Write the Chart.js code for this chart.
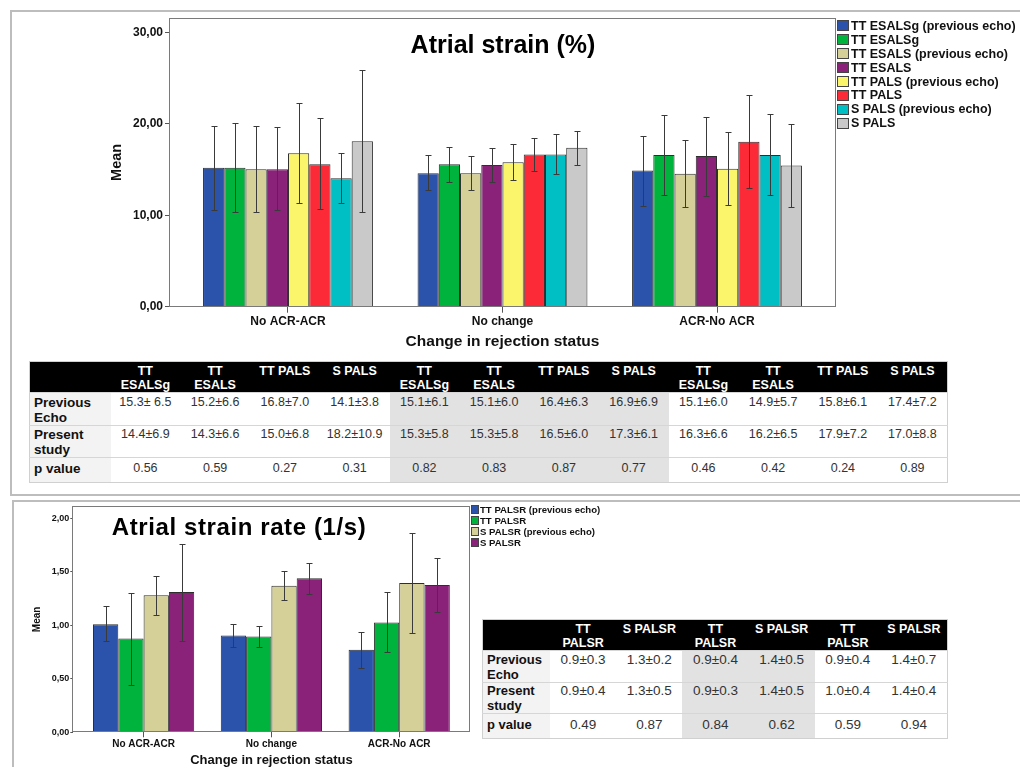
<!DOCTYPE html>
<html>
<head>
<meta charset="utf-8">
<script src="https://cdn.jsdelivr.net/npm/chart.js@4.4.1/dist/chart.umd.min.js"></script>
<style>
  html, body { margin: 0; padding: 0; background: #fff; width: 1020px; height: 767px; overflow: hidden;
    font-family: "Liberation Sans", Arial, Helvetica, sans-serif; }
  .abs { position: absolute; }
  .panel { position: absolute; border: 2px solid #bdbdbd; box-sizing: border-box; }
  .ctitle { position: absolute; font-weight: bold; color: #000; white-space: nowrap; line-height: 1;
    transform: translate(-50%, -50%); }
  .legend { position: absolute; font-weight: bold; color: #111; }
  .legend .row { display: flex; align-items: center; white-space: nowrap; }
  .legend .box { box-sizing: border-box; border: 1px solid #444; flex: none; }
  table.stats { position: absolute; border-collapse: collapse; table-layout: fixed; border: 1px solid #d0d0d0; }
  table.stats td { padding: 0; vertical-align: top; text-align: center; color: #333; overflow: hidden; }
  table.stats tr.head td { background: #000; color: #fff; font-weight: bold; }
  table.stats tr.body td { border-top: 1px solid #d6d6d6; }
  table.stats td.lab { text-align: left; font-weight: bold; color: #111; background: #f3f3f3; padding-left: 4px; }
  table.stats tr.body td.shade { background: #e2e2e2; }
</style>
</head>
<body>
<div class="panel" style="left:10px; top:10px; width:1030px; height:486px;"></div>
<div class="panel" style="left:12px; top:500px; width:1030px; height:300px;"></div>

<canvas id="strainChart" class="abs" width="745" height="360" style="left:100px; top:0px;"></canvas>
<div id="strainTitle" class="ctitle" style="left:503px; top:44px; font-size:25px;"></div>
<div id="strainLegend" class="legend" style="left:837px; top:19px; font-size:12.5px;"></div>
<table id="strainTable" class="stats" style="left:29px; top:361px; width:918px;"></table>

<canvas id="rateChart" class="abs" width="475" height="267" style="left:0px; top:500px;"></canvas>
<div id="rateTitle" class="ctitle" style="left:239px; top:527px; font-size:24px; letter-spacing:0.6px;"></div>
<div id="rateLegend" class="legend" style="left:471px; top:504px; font-size:9.6px;"></div>
<table id="rateTable" class="stats" style="left:482px; top:619px; width:465px;"></table>

<script>
// ---------- shared ----------
const categories = ['No ACR-ACR', 'No change', 'ACR-No ACR'];
const axisTitleX = 'Change in rejection status';
const axisTitleY = 'Mean';

// ---------- Atrial strain (%) ----------
const strainTitle = 'Atrial strain (%)';
const strainSeries = [
  'TT ESALSg (previous echo)', 'TT ESALSg',
  'TT ESALS (previous echo)', 'TT ESALS',
  'TT PALS (previous echo)', 'TT PALS',
  'S PALS (previous echo)', 'S PALS'
];
// group means (No ACR-ACR, No change, ACR-No ACR)
const ttEsalsgPrev = [15.2, 14.6, 14.9];
const ttEsalsg     = [15.2, 15.6, 16.6];
const ttEsalsPrev  = [15.05, 14.6, 14.55];
const ttEsals      = [15.05, 15.5, 16.5];
const ttPalsPrev   = [16.8, 15.8, 15.1];
const ttPals       = [15.6, 16.65, 18.05];
const sPalsPrev    = [14.05, 16.65, 16.6];
const sPals        = [18.1, 17.4, 15.45];
// error-bar ends
const ttEsalsgPrevLow = [10.55, 12.73, 11.05], ttEsalsgPrevHigh = [19.8, 16.55, 18.7];
const ttEsalsgLow     = [10.4, 13.7, 12.25],   ttEsalsgHigh     = [20.1, 17.45, 21.0];
const ttEsalsPrevLow  = [10.4, 12.73, 10.95],  ttEsalsPrevHigh  = [19.8, 16.5, 18.2];
const ttEsalsLow      = [10.55, 13.7, 12.15],  ttEsalsHigh      = [19.65, 17.4, 20.8];
const ttPalsPrevLow   = [11.4, 13.9, 11.1],    ttPalsPrevHigh   = [22.3, 17.8, 19.1];
const ttPalsLow       = [10.65, 14.8, 13.0],   ttPalsHigh       = [20.6, 18.45, 23.2];
const sPalsPrevLow    = [11.35, 14.55, 12.2],  sPalsPrevHigh    = [16.8, 18.85, 21.05];
const sPalsLow        = [10.35, 15.5, 10.9],   sPalsHigh        = [25.9, 19.25, 20.0];
const strainTicks = [0, 10, 20, 30];

// table under the strain chart
const strainCols = ['TT<br>ESALSg', 'TT<br>ESALS', 'TT PALS', 'S PALS',
                    'TT<br>ESALSg', 'TT<br>ESALS', 'TT PALS', 'S PALS',
                    'TT<br>ESALSg', 'TT<br>ESALS', 'TT PALS', 'S PALS'];
const strainPrevEcho = ['15.3± 6.5', '15.2±6.6', '16.8±7.0', '14.1±3.8',
                        '15.1±6.1', '15.1±6.0', '16.4±6.3', '16.9±6.9',
                        '15.1±6.0', '14.9±5.7', '15.8±6.1', '17.4±7.2'];
const strainPresent  = ['14.4±6.9', '14.3±6.6', '15.0±6.8', '18.2±10.9',
                        '15.3±5.8', '15.3±5.8', '16.5±6.0', '17.3±6.1',
                        '16.3±6.6', '16.2±6.5', '17.9±7.2', '17.0±8.8'];
const strainP        = ['0.56', '0.59', '0.27', '0.31', '0.82', '0.83', '0.87', '0.77',
                        '0.46', '0.42', '0.24', '0.89'];

// ---------- Atrial strain rate (1/s) ----------
const rateTitle = 'Atrial strain rate (1/s)';
const rateSeries = ['TT PALSR (previous echo)', 'TT PALSR', 'S PALSR (previous echo)', 'S PALSR'];
const ttPalsrPrev = [1.01, 0.905, 0.77];
const ttPalsr     = [0.875, 0.895, 1.025];
const sPalsrPrev  = [1.28, 1.37, 1.395];
const sPalsr      = [1.31, 1.44, 1.375];
const ttPalsrPrevLow = [0.85, 0.80, 0.605],  ttPalsrPrevHigh = [1.18, 1.015, 0.94];
const ttPalsrLow     = [0.44, 0.80, 0.75],   ttPalsrHigh     = [1.30, 0.99, 1.31];
const sPalsrPrevLow  = [1.10, 1.235, 0.925], sPalsrPrevHigh  = [1.46, 1.51, 1.86];
const sPalsrLow      = [0.855, 1.295, 1.125],sPalsrHigh      = [1.755, 1.58, 1.63];
const rateTicks = [0, 0.5, 1, 1.5, 2];

const rateCols = ['TT<br>PALSR', 'S PALSR', 'TT<br>PALSR', 'S PALSR', 'TT<br>PALSR', 'S PALSR'];
const ratePrevEcho = ['0.9±0.3', '1.3±0.2', '0.9±0.4', '1.4±0.5', '0.9±0.4', '1.4±0.7'];
const ratePresent  = ['0.9±0.4', '1.3±0.5', '0.9±0.3', '1.4±0.5', '1.0±0.4', '1.4±0.4'];
const rateP        = ['0.49', '0.87', '0.84', '0.62', '0.59', '0.94'];

const rowLabels = ['Previous<br>Echo', 'Present<br>study', 'p value'];

// ---------- styling ----------
const barColors = ['#2b53ab', '#00b33c', '#d5cf98', '#8b2279', '#fbf56c', '#fb2a36', '#00bfc4', '#c9c9c9'];
const FONT = "'Liberation Sans', Arial, Helvetica, sans-serif";

// whiskers drawn on top of each bar
const errorBarPlugin = {
  id: 'errorBars',
  afterDatasetsDraw(chart, args, opts) {
    const ctx = chart.ctx, yScale = chart.scales.y;
    ctx.save();
    ctx.strokeStyle = opts.color;
    ctx.lineWidth = 1;
    chart.data.datasets.forEach((ds, i) => {
      chart.getDatasetMeta(i).data.forEach((bar, j) => {
        const x = Math.round(bar.x) + 0.5;
        const yl = Math.round(yScale.getPixelForValue(ds.errLow[j])) + 0.5;
        const yh = Math.round(yScale.getPixelForValue(ds.errHigh[j])) + 0.5;
        ctx.beginPath();
        ctx.moveTo(x, yl); ctx.lineTo(x, yh);
        ctx.moveTo(x - opts.cap, yl); ctx.lineTo(x + opts.cap, yl);
        ctx.moveTo(x - opts.cap, yh); ctx.lineTo(x + opts.cap, yh);
        ctx.stroke();
      });
    });
    ctx.restore();
  }
};

// plot frame around the chart area
const framePlugin = {
  id: 'plotFrame',
  afterDraw(chart, args, opts) {
    const {left, top, right, bottom} = chart.chartArea;
    const ctx = chart.ctx;
    ctx.save();
    ctx.strokeStyle = opts.color;
    ctx.lineWidth = 1;
    ctx.strokeRect(Math.round(left) - 0.5, Math.round(top) + 0.5,
                   Math.round(right - left) + 1, Math.round(bottom - top) - 1);
    ctx.restore();
  }
};

const fmtComma = v => v.toFixed(2).replace('.', ',');

function makeBarChart(id, cfg) {
  const datasets = cfg.means.map((m, i) => ({
    label: cfg.names[i],
    data: m.map((v, j) => ({x: j, y: v})),
    errLow: cfg.lows[i],
    errHigh: cfg.highs[i],
    backgroundColor: barColors[i],
    borderColor: '#2e2e2e',
    borderWidth: 1
  }));
  return new Chart(document.getElementById(id), {
    type: 'bar',
    data: {datasets},
    plugins: [errorBarPlugin, framePlugin],
    options: {
      responsive: false,
      animation: false,
      devicePixelRatio: 1,
      categoryPercentage: 0.792,
      barPercentage: 1,
      layout: {padding: cfg.padding},
      plugins: {
        legend: {display: false},
        tooltip: {enabled: false},
        errorBars: {color: '#3a3a3a', cap: cfg.cap},
        plotFrame: {color: '#7a7a7a'}
      },
      scales: {
        x: {
          type: 'linear',
          min: -0.55, max: 2.55,
          offset: false,
          grid: {display: true, drawOnChartArea: false, drawTicks: true, tickLength: cfg.xTick, color: '#555', offset: false},
          border: {display: false},
          afterBuildTicks: s => { s.ticks = categories.map((_, i) => ({value: i})); },
          afterFit: s => { s.height = cfg.xHeight; },
          ticks: {
            autoSkip: false, maxRotation: 0, padding: cfg.xPad,
            color: '#111', font: {family: FONT, size: cfg.xFont, weight: 'bold'},
            callback: v => categories[v] ?? ''
          },
          title: {
            display: true, text: axisTitleX, color: '#111',
            font: {family: FONT, size: cfg.xTitleFont, weight: 'bold', lineHeight: cfg.xTitleLH},
            padding: {top: 0, bottom: cfg.xTitlePad}
          }
        },
        y: {
          type: 'linear',
          min: 0, max: cfg.yMax,
          grid: {display: true, drawOnChartArea: false, drawTicks: true, tickLength: cfg.yTick, color: '#555'},
          border: {display: false},
          afterBuildTicks: s => { s.ticks = cfg.yTicks.map(v => ({value: v})); },
          afterFit: s => { s.width = cfg.yWidth; },
          ticks: {
            padding: cfg.yPad, color: '#111',
            font: {family: FONT, size: cfg.yFont, weight: 'bold'},
            callback: v => fmtComma(v)
          },
          title: {
            display: true, text: axisTitleY, color: '#111',
            font: {family: FONT, size: cfg.yTitleFont, weight: 'bold'},
            padding: {top: cfg.yTitlePad, bottom: 0}
          }
        }
      }
    }
  });
}

makeBarChart('strainChart', {
  names: strainSeries,
  means: [ttEsalsgPrev, ttEsalsg, ttEsalsPrev, ttEsals, ttPalsPrev, ttPals, sPalsPrev, sPals],
  lows:  [ttEsalsgPrevLow, ttEsalsgLow, ttEsalsPrevLow, ttEsalsLow, ttPalsPrevLow, ttPalsLow, sPalsPrevLow, sPalsLow],
  highs: [ttEsalsgPrevHigh, ttEsalsgHigh, ttEsalsPrevHigh, ttEsalsHigh, ttPalsPrevHigh, ttPalsHigh, sPalsPrevHigh, sPalsHigh],
  yMax: 31.6, yTicks: strainTicks,
  padding: {top: 18, right: 10, bottom: 0, left: 0},
  yWidth: 70, xHeight: 53.3,
  xTick: 6, xPad: 2, xFont: 12, xTitleFont: 15.5, xTitleLH: 1.2, xTitlePad: 9,
  yTick: 5, yPad: 2, yFont: 12, yTitleFont: 14.5, yTitlePad: 8,
  cap: 3
});

makeBarChart('rateChart', {
  names: rateSeries,
  means: [ttPalsrPrev, ttPalsr, sPalsrPrev, sPalsr],
  lows:  [ttPalsrPrevLow, ttPalsrLow, sPalsrPrevLow, sPalsrLow],
  highs: [ttPalsrPrevHigh, ttPalsrHigh, sPalsrPrevHigh, sPalsrHigh],
  yMax: 2.11, yTicks: rateTicks,
  padding: {top: 3, right: 5.5, bottom: 0, left: 0},
  yWidth: 73.3, xHeight: 34.7,
  xTick: 5, xPad: 1, xFont: 10, xTitleFont: 13, xTitleLH: 1, xTitlePad: 0,
  yTick: 3, yPad: 1, yFont: 9, yTitleFont: 10, yTitlePad: 31,
  cap: 3
});

// ---------- titles, legends, tables ----------
document.getElementById('strainTitle').textContent = strainTitle;
document.getElementById('rateTitle').textContent = rateTitle;

function buildLegend(id, names, rowH, boxW, boxH, gap) {
  const el = document.getElementById(id);
  names.forEach((n, i) => {
    const row = document.createElement('div');
    row.className = 'row';
    row.style.height = rowH + 'px';
    const box = document.createElement('span');
    box.className = 'box';
    box.style.width = boxW + 'px';
    box.style.height = boxH + 'px';
    box.style.background = barColors[i];
    box.style.marginRight = gap + 'px';
    const txt = document.createElement('span');
    txt.textContent = n;
    row.appendChild(box);
    row.appendChild(txt);
    el.appendChild(row);
  });
}
buildLegend('strainLegend', strainSeries, 13.9, 12, 11, 2);
buildLegend('rateLegend', rateSeries, 11, 8, 9, 1);

function buildTable(id, spec) {
  const t = document.getElementById(id);
  let html = '<colgroup><col style="width:' + spec.labW + 'px">';
  spec.cols.forEach(() => { html += '<col style="width:' + spec.colW + 'px">'; });
  html += '</colgroup>';
  html += '<tr class="head" style="height:' + spec.rowH[0] + 'px"><td></td>';
  spec.cols.forEach(c => {
    html += '<td style="font-size:' + spec.headFont + 'px;line-height:' + spec.headLH + 'px;padding-top:' + spec.headPad + 'px">' + c + '</td>';
  });
  html += '</tr>';
  spec.rows.forEach((vals, r) => {
    html += '<tr class="body" style="height:' + spec.rowH[r + 1] + 'px">';
    html += '<td class="lab" style="font-size:' + spec.labFont + 'px;line-height:' + spec.bodyLH + 'px;padding-top:' + spec.bodyPad[r] + 'px">' + rowLabels[r] + '</td>';
    vals.forEach((v, c) => {
      const shade = spec.shadeCols.includes(c) ? ' class="shade"' : '';
      html += '<td' + shade + ' style="font-size:' + spec.dataFont + 'px;line-height:' + spec.bodyLH + 'px;padding-top:' + spec.bodyPad[r] + 'px">' + v + '</td>';
    });
    html += '</tr>';
  });
  t.innerHTML = html;
}

buildTable('strainTable', {
  cols: strainCols, rows: [strainPrevEcho, strainPresent, strainP],
  labW: 81, colW: 69.75, rowH: [31, 33, 32, 25],
  headFont: 12.5, headLH: 14, headPad: 2,
  labFont: 13.5, dataFont: 12.5, bodyLH: 15, bodyPad: [2, 1, 3],
  shadeCols: [4, 5, 6, 7]
});

buildTable('rateTable', {
  cols: rateCols, rows: [ratePrevEcho, ratePresent, rateP],
  labW: 67.5, colW: 66.2, rowH: [31, 31, 31, 25],
  headFont: 12.5, headLH: 14, headPad: 2,
  labFont: 13, dataFont: 13.5, bodyLH: 14.5, bodyPad: [2, 1, 4],
  shadeCols: [2, 3]
});
</script>
</body>
</html>
